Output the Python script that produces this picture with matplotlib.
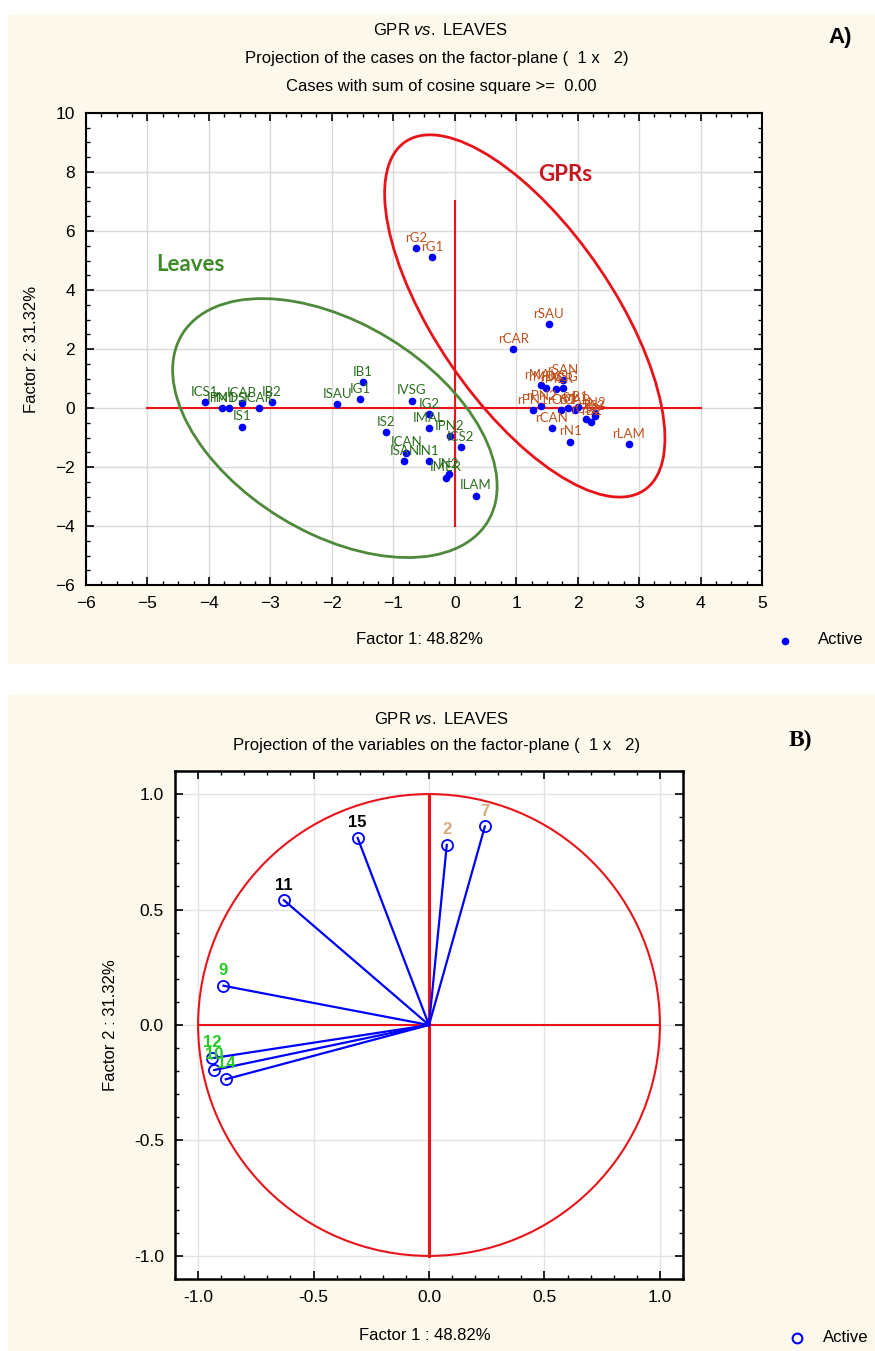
import numpy as np
import matplotlib.pyplot as plt
from matplotlib.patches import Ellipse, Circle, Rectangle
from matplotlib.lines import Line2D

# ---------------------------------------------------------------
# Panel A data: case scores on factor plane (1 x 2)
# ---------------------------------------------------------------
leaf_names = ["ICS1", "IPN1", "IMDS", "ICAB", "ICAR", "IB2", "IS1", "ISAU",
              "IG1", "IB1", "IVSG", "IG2", "IMAL", "IPN2", "ICS2", "IS2",
              "ICAN", "ISAN", "IN1", "IN2", "IMER", "ILAM"]
leaf_x = [-4.07, -3.79, -3.67, -3.46, -3.19, -2.98, -3.46, -1.91,
          -1.54, -1.49, -0.70, -0.42, -0.42, -0.08, 0.10, -1.12,
          -0.79, -0.82, -0.42, -0.10, -0.14, 0.34]
leaf_y = [0.20, 0.00, 0.00, 0.16, 0.00, 0.20, -0.63, 0.12,
          0.30, 0.89, 0.25, -0.20, -0.69, -0.95, -1.33, -0.82,
          -1.51, -1.79, -1.79, -2.25, -2.36, -2.97]

gpr_names = ["rG2", "rG1", "rSAU", "rCAR", "rLAM", "rN1", "rCAN", "rMAL",
             "rMDS", "rMER", "rVSG", "rSAN", "rPN1", "rPN2", "rS1", "rCS1",
             "rCAB", "rB1", "rCS2", "rB2", "rS2", "rN2"]
gpr_x = [-0.63, -0.37, 1.53, 0.95, 2.83, 1.88, 1.58, 1.40,
         1.48, 1.65, 1.76, 1.76, 1.27, 1.41, 1.85, 1.73,
         1.96, 2.00, 2.13, 2.22, 2.28, 2.28]
gpr_y = [5.43, 5.12, 2.85, 2.01, -1.22, -1.14, -0.69, 0.77,
         0.69, 0.63, 0.69, 0.95, -0.07, 0.07, 0.00, -0.07,
         -0.07, 0.04, -0.37, -0.46, -0.26, -0.18]

# group ellipses: centre and shape matrix (data units)
leaf_ell_c = (-1.95, -0.68)
leaf_ell_s = [[6.97, -5.2], [-5.2, 19.27]]
gpr_ell_c = (1.14, 3.12)
gpr_ell_s = [[5.2, -9.47], [-9.47, 37.7]]

# ---------------------------------------------------------------
# Panel B data: variable loadings
# ---------------------------------------------------------------
var_names = ["15", "2", "7", "11", "9", "12", "10", "14"]
var_x = [-0.309, 0.077, 0.242, -0.628, -0.89, -0.94, -0.93, -0.88]
var_y = [0.81, 0.78, 0.86, 0.54, 0.17, -0.144, -0.195, -0.235]
var_col = ["black", "#d8a878", "#d8a878", "black",
           "#22cc22", "#22cc22", "#22cc22", "#22cc22"]

W, H = 875, 1351
CREAM = "#fdf8ec"
RED = "#e8141a"
ARIAL = ["Liberation Sans", "DejaVu Sans"]
LABF = ["Lato", "DejaVu Sans"]

plt.rcParams["mathtext.fontset"] = "custom"
plt.rcParams["mathtext.rm"] = "Liberation Sans"
plt.rcParams["mathtext.it"] = "Liberation Sans:italic"


def box(x0, y0, x1, y1):
    return [x0 / W, 1 - y1 / H, (x1 - x0) / W, (y1 - y0) / H]


def fx(x):
    return x / W


def fy(y):
    return 1 - y / H


def cov_ellipse(c, s, **kw):
    vals, vecs = np.linalg.eigh(np.array(s))
    ang = np.degrees(np.arctan2(vecs[1, 1], vecs[0, 1]))
    return Ellipse(c, 2 * np.sqrt(vals[1]), 2 * np.sqrt(vals[0]), angle=ang,
                   fill=False, **kw)


fig = plt.figure(figsize=(W / 100, H / 100), dpi=100)
fig.add_artist(Rectangle((fx(8), fy(663)), fx(W - 8), (663 - 15) / H,
                         transform=fig.transFigure, color=CREAM, zorder=-10))
fig.add_artist(Rectangle((fx(8), fy(H)), fx(W - 8), (H - 695) / H,
                         transform=fig.transFigure, color=CREAM, zorder=-10))

# ---------------------------------------------------------------
# Panel A
# ---------------------------------------------------------------
axA = fig.add_axes(box(86, 113, 762, 585))
axA.set_xlim(-6, 5)
axA.set_ylim(-6, 10)
axA.set_xticks(np.arange(-6, 6, 1))
axA.set_yticks(np.arange(-6, 11, 2))
axA.set_xticks(np.arange(-6, 5.01, 0.25), minor=True)
axA.set_yticks(np.arange(-6, 10.01, 0.5), minor=True)
axA.grid(True, which="major", color="#d9d9d9", lw=1, zorder=0)
axA.tick_params(which="both", direction="in", top=True, right=True,
                labeltop=False, labelright=False)
axA.tick_params(which="major", length=6, width=1.2, labelsize=12.5, pad=8)
axA.tick_params(which="minor", length=3, width=1)
for lab in axA.get_xticklabels() + axA.get_yticklabels():
    lab.set_family(ARIAL)
for sp in axA.spines.values():
    sp.set_linewidth(1.5)

axA.plot([-5, 4], [0, 0], color=RED, lw=1.5, zorder=2)
axA.plot([0, 0], [-4, 7], color=RED, lw=1.5, zorder=2)
axA.add_patch(cov_ellipse(leaf_ell_c, leaf_ell_s, color="#4f8a3c", lw=2, zorder=2))
axA.add_patch(cov_ellipse(gpr_ell_c, gpr_ell_s, color=RED, lw=2, zorder=2))

axA.plot(leaf_x, leaf_y, "o", color="#0000ff", ms=4.5, zorder=4)
axA.plot(gpr_x, gpr_y, "o", color="#0000ff", ms=4.5, zorder=4)
for n, x, y in zip(leaf_names, leaf_x, leaf_y):
    axA.annotate(n, (x, y), xytext=(0, 3), textcoords="offset points",
                 ha="center", va="bottom", fontsize=9.5, family=LABF,
                 color="#2b6e1e", zorder=5)
for n, x, y in zip(gpr_names, gpr_x, gpr_y):
    axA.annotate(n, (x, y), xytext=(0, 3), textcoords="offset points",
                 ha="center", va="bottom", fontsize=9.5, family=LABF,
                 color="#c0521e", zorder=5)

axA.text(-4.3, 4.85, "Leaves", color="#3d8a2a", fontsize=16, weight="bold",
         family=LABF, ha="center", va="center")
axA.text(1.8, 7.9, "GPRs", color="#c8161e", fontsize=16, weight="bold",
         family=LABF, ha="center", va="center")

fig.text(fx(441), fy(30), "GPR $\\it{vs.}$ LEAVES", ha="center", va="center",
         fontsize=12, family=ARIAL)
fig.text(fx(437), fy(58), "Projection of the cases on the factor-plane (  1 x   2)",
         ha="center", va="center", fontsize=12, family=ARIAL)
fig.text(fx(441), fy(87), "Cases with sum of cosine square >=  0.00",
         ha="center", va="center", fontsize=12, family=ARIAL)
fig.text(fx(840), fy(37), "A)", ha="center", va="center", fontsize=16,
         weight="bold", family=ARIAL)
fig.text(fx(420), fy(640), "Factor 1: 48.82%", ha="center", va="center",
         fontsize=12, family=ARIAL)
fig.text(fx(32), fy(349), "Factor 2: 31.32%", ha="center", va="center",
         fontsize=12, family=ARIAL, rotation=90)
fig.add_artist(Line2D([fx(785)], [fy(641)], marker="o", color="#0000ff",
                      ms=4.5, transform=fig.transFigure))
fig.text(fx(818), fy(640), "Active", ha="left", va="center", fontsize=12,
         family=ARIAL)

# ---------------------------------------------------------------
# Panel B
# ---------------------------------------------------------------
axB = fig.add_axes(box(175, 771, 683, 1279))
axB.set_xlim(-1.1, 1.1)
axB.set_ylim(-1.1, 1.1)
ticksB = [-1.0, -0.5, 0.0, 0.5, 1.0]
axB.set_xticks(ticksB)
axB.set_yticks(ticksB)
axB.set_xticklabels([f"{t:.1f}" for t in ticksB])
axB.set_yticklabels([f"{t:.1f}" for t in ticksB])
axB.set_xticks(np.arange(-1.1, 1.11, 0.1), minor=True)
axB.set_yticks(np.arange(-1.1, 1.11, 0.1), minor=True)
axB.grid(True, which="major", color="#e3e3e3", lw=1, zorder=0)
axB.tick_params(which="both", direction="in", top=True, right=True,
                labeltop=False, labelright=False)
axB.tick_params(which="major", length=6, width=1.2, labelsize=12.5, pad=8)
axB.tick_params(which="minor", length=3, width=1)
for lab in axB.get_xticklabels() + axB.get_yticklabels():
    lab.set_family(ARIAL)
for sp in axB.spines.values():
    sp.set_linewidth(1.8)

axB.add_patch(Circle((0, 0), 1.0, fill=False, color=RED, lw=1.5, zorder=2))
axB.plot([-1, 1], [0, 0], color=RED, lw=1.5, zorder=2)
axB.plot([0, 0], [-1, 1], color=RED, lw=2.2, zorder=2)

for n, x, y, c in zip(var_names, var_x, var_y, var_col):
    axB.plot([0, x], [0, y], color="#0000ff", lw=1.6, zorder=3)
    axB.plot(x, y, "o", mfc="none", mec="#0000ff", mew=1.3, ms=8, zorder=4)
    axB.annotate(n, (x, y), xytext=(0, 11), textcoords="offset points",
                 ha="center", va="center", fontsize=12, weight="bold",
                 family=ARIAL, color=c, zorder=5)

fig.text(fx(442), fy(719), "GPR $\\it{vs.}$ LEAVES", ha="center", va="center",
         fontsize=12, family=ARIAL)
fig.text(fx(437), fy(746), "Projection of the variables on the factor-plane (  1 x   2)",
         ha="center", va="center", fontsize=12, family=ARIAL)
fig.text(fx(800), fy(740), "B)", ha="center", va="center", fontsize=17,
         weight="bold", family=["Liberation Serif", "DejaVu Serif"])
fig.text(fx(425), fy(1336), "Factor 1 : 48.82%", ha="center", va="center",
         fontsize=12, family=ARIAL)
fig.text(fx(110), fy(1025), "Factor 2 : 31.32%", ha="center", va="center",
         fontsize=12, family=ARIAL, rotation=90)
fig.add_artist(Line2D([fx(797)], [fy(1338)], marker="o", mfc="none",
                      mec="#0000ff", mew=1.5, ms=7, transform=fig.transFigure))
fig.text(fx(823), fy(1337), "Active", ha="left", va="center", fontsize=12,
         family=ARIAL)

fig.savefig("out.png", dpi=100)
